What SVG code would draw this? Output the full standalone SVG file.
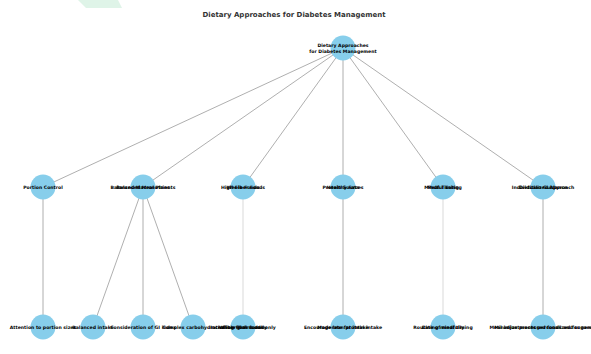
<svg xmlns="http://www.w3.org/2000/svg" width="591" height="354" viewBox="0 0 591 354">
<style>
.n{fill:#87ceeb}
.l{font-family:"DejaVu Sans",sans-serif;font-weight:bold;font-size:4.6px;fill:#000;text-anchor:middle}
.t{font-family:"DejaVu Sans",sans-serif;font-weight:bold;font-size:7px;fill:#333;text-anchor:middle}
.e{stroke:#9a9a9a;stroke-width:0.8;fill:none}
.f{stroke:#cfcfcf;stroke-width:0.8;fill:none}
</style>
<rect width="591" height="354" fill="#fff"/>
<polygon points="78,0 118,0 122,8 86,8" fill="#dff4e8"/>
<text class="t" x="294" y="17">Dietary Approaches for Diabetes Management</text>
<g id="edges">
<line class="e" x1="343" y1="48" x2="43" y2="187"/>
<line class="e" x1="343" y1="48" x2="143" y2="187"/>
<line class="e" x1="343" y1="48" x2="243" y2="187"/>
<line class="e" x1="343" y1="48" x2="343" y2="187"/>
<line class="e" x1="343" y1="48" x2="443" y2="187"/>
<line class="e" x1="343" y1="48" x2="543" y2="187"/>
<line class="e" x1="43" y1="187" x2="43" y2="327"/>
<line class="e" x1="143" y1="187" x2="93" y2="327"/>
<line class="e" x1="143" y1="187" x2="143" y2="327"/>
<line class="e" x1="143" y1="187" x2="193" y2="327"/>
<line class="f" x1="243" y1="187" x2="243" y2="327"/>
<line class="e" x1="343" y1="187" x2="343" y2="327"/>
<line class="f" x1="443" y1="187" x2="443" y2="327"/>
<line class="e" x1="543" y1="187" x2="543" y2="327"/>
</g>
<g id="root"><circle class="n" cx="343" cy="48" r="12.5"/><text class="l" x="343" y="47">Dietary Approaches</text><text class="l" x="343" y="52.5">for Diabetes Management</text></g>
<g id="n1"><circle class="n" cx="43" cy="187" r="12.5"/><text class="l" x="43" y="188.6">Portion Control</text></g>
<g id="n2"><circle class="n" cx="143" cy="187" r="12.5"/><text class="l" x="143" y="188.6">Balanced Macronutrients</text><text class="l" x="143" y="188.6">Balanced Meal Plans</text></g>
<g id="n3"><circle class="n" cx="243" cy="187" r="12.5"/><text class="l" x="243" y="188.6">High-Fiber Foods</text><text class="l" x="243" y="188.6">Whole Foods</text></g>
<g id="n4"><circle class="n" cx="343" cy="187" r="12.5"/><text class="l" x="343" y="188.6">Protein Sources</text><text class="l" x="343" y="188.6">Healthy Fats</text></g>
<g id="n5"><circle class="n" cx="443" cy="187" r="12.5"/><text class="l" x="443" y="188.6">Mindful Eating</text><text class="l" x="443" y="188.6">Meal Timing</text></g>
<g id="n6"><circle class="n" cx="543" cy="187" r="12.5"/><text class="l" x="543" y="188.6">Individualized Approach</text><text class="l" x="543" y="188.6">Dietitian Guidance</text></g>
<g id="m1"><circle class="n" cx="43" cy="327" r="12.5"/><text class="l" x="43" y="328.6">Attention to portion sizes</text></g>
<g id="m2"><circle class="n" cx="93" cy="327" r="12.5"/><text class="l" x="93" y="328.6">Balanced intake</text></g>
<g id="m3"><circle class="n" cx="143" cy="327" r="12.5"/><text class="l" x="143" y="328.6">Consideration of GI index</text></g>
<g id="m4"><circle class="n" cx="193" cy="327" r="12.5"/><text class="l" x="193" y="328.6">Complex carbohydrates</text></g>
<g id="m5"><circle class="n" cx="243" cy="327" r="12.5"/><text class="l" x="243" y="328.6">Whole grains daily</text><text class="l" x="243" y="328.6">Fiber-rich foods</text><text class="l" x="243" y="328.6">Including fiber commonly</text></g>
<g id="m6"><circle class="n" cx="343" cy="327" r="12.5"/><text class="l" x="343" y="328.6">Encourage lean protein intake</text><text class="l" x="343" y="328.6">Moderate fat intake</text></g>
<g id="m7"><circle class="n" cx="443" cy="327" r="12.5"/><text class="l" x="443" y="328.6">Routine of meal timing</text><text class="l" x="443" y="328.6">Eating mindfully</text></g>
<g id="m8"><circle class="n" cx="543" cy="327" r="12.5"/><text class="l" x="543" y="328.6">Minimize processed foods and sugars</text><text class="l" x="543" y="328.6">Meal adjustments personalized for needs</text></g>
</svg>
